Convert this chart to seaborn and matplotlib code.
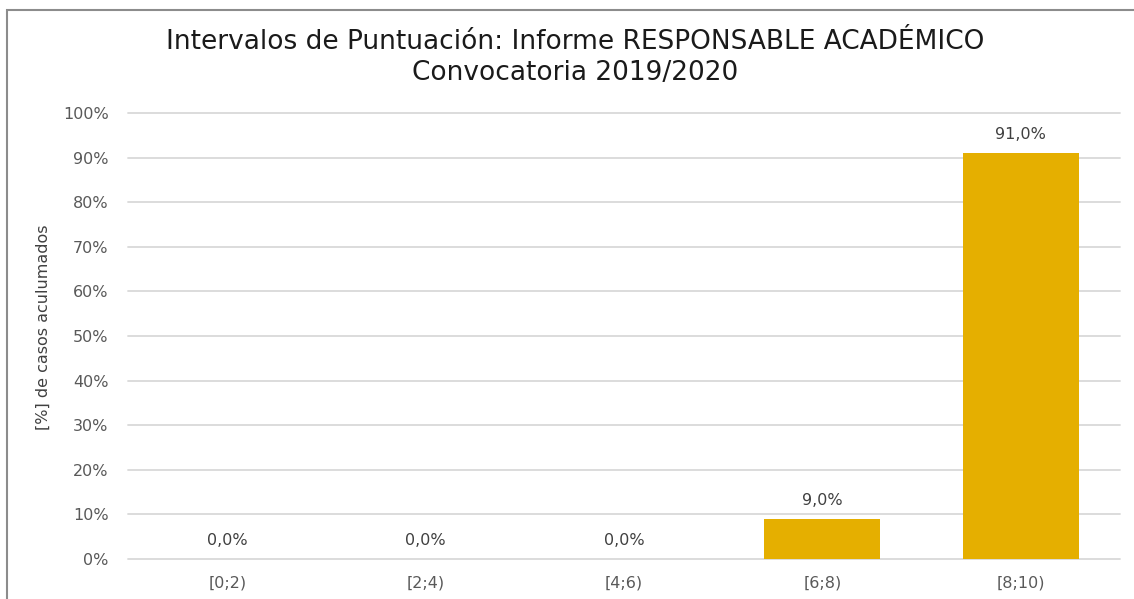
import matplotlib.pyplot as plt
import matplotlib.patches as patches
import pandas as pd
import seaborn as sns

# Data
intervalos = ["[0;2)", "[2;4)", "[4;6)", "[6;8)", "[8;10)"]
porcentajes = [0.0, 0.0, 0.0, 9.0, 91.0]

df = pd.DataFrame({"intervalo": intervalos, "pct": porcentajes})

sns.set_theme(style="white")
plt.rcParams['font.family'] = ['DejaVu Sans']

fig = plt.figure(figsize=(11.34, 5.99), dpi=100)
ax = fig.add_axes([128 / 1134, 1 - 559 / 599, (1120 - 128) / 1134, (559 - 113) / 599])

sns.barplot(data=df, x="intervalo", y="pct", color="#E5AF00", width=0.585,
            saturation=1, linewidth=0, ax=ax, zorder=3)

ax.set_ylim(0, 100)
ax.set_yticks(range(0, 101, 10))
ax.set_yticklabels([f"{v}%" for v in range(0, 101, 10)])
ax.yaxis.grid(True, color="#D9D9D9", linewidth=1.3, zorder=0)
for gl in ax.get_ygridlines():
    gl.set_clip_on(False)
ax.xaxis.grid(False)
for s in ax.spines.values():
    s.set_visible(False)
ax.tick_params(axis="both", length=0, labelsize=11.5, labelcolor="#595959")
ax.tick_params(axis="y", pad=14)
ax.tick_params(axis="x", pad=12)
ax.set_xlabel("")
ax.set_ylabel("[%] de casos aculumados", fontsize=11.5, color="#404040")
ax.yaxis.set_label_coords(-0.078, 0.52)

# data labels
for i, v in enumerate(porcentajes):
    ax.annotate(f"{v:.1f}%".replace(".", ","), (i, v), xytext=(0, 8),
                textcoords="offset points", ha="center", va="bottom",
                fontsize=11.5, color="#404040")

fig.text(575 / 1134, 1 - 42 / 599, "Intervalos de Puntuación: Informe RESPONSABLE ACADÉMICO",
         ha="center", va="center", fontsize=19, color="#1a1a1a")
fig.text(575 / 1134, 1 - 73 / 599, "Convocatoria 2019/2020",
         ha="center", va="center", fontsize=19, color="#1a1a1a")

# chart border (top/left visible, rest cut off)
fig.patches.append(patches.Rectangle((7 / 1134, -0.05), 1.1, 1 - 10 / 599 + 0.05,
                                     transform=fig.transFigure, fill=False,
                                     edgecolor="#8C8C8C", linewidth=1.5))

fig.savefig("out.png", dpi=100)
